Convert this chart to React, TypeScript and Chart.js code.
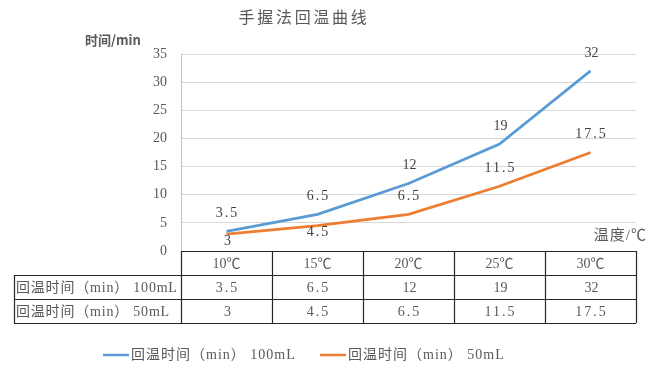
import React, { useEffect, useRef } from 'react';
import { Chart, registerables } from 'chart.js';

Chart.register(...registerables);

const chartTitle = '手握法回温曲线';
const yAxisTitle = '时间/min';
const xAxisTitle = '温度/℃';
const categories = ['10℃', '15℃', '20℃', '25℃', '30℃'];
const series100Name = '回温时间（min） 100mL';
const series50Name = '回温时间（min） 50mL';
const series100 = [3.5, 6.5, 12, 19, 32];
const series50 = [3, 4.5, 6.5, 11.5, 17.5];
const series100LabelPos = ['above', 'above', 'above', 'above', 'above'];
const series50LabelPos = ['below', 'below', 'above', 'above', 'above'];
const yMin = 0;
const yMax = 35;
const yStep = 5;

const BLUE = '#5B9BD5';
const ORANGE = '#ED7D31';
const TEXT = '#595959';
const SERIF = "'Liberation Serif', 'Noto Sans CJK SC', serif";
const CJK = "'Noto Sans CJK SC', sans-serif";

const fmt = (v: number) => String(v);
const numSpacing = (v: number) => (Number.isInteger(v) ? '0px' : '2px');

const overlayPlugin = {
  id: 'overlay',
  afterDraw(chart: any) {
    const ctx: CanvasRenderingContext2D = chart.ctx;
    const area = chart.chartArea;
    const xs = chart.scales.x;
    const ls = (v: string) => {
      (ctx as any).letterSpacing = v;
    };
    ctx.save();

    // Title
    ctx.fillStyle = TEXT;
    ctx.textAlign = 'center';
    ctx.textBaseline = 'middle';
    ctx.font = `16px ${CJK}`;
    ls('2.7px');
    ctx.fillText(chartTitle, 304, 17);
    ls('0px');

    // Y axis title
    ctx.font = `bold 13px ${CJK}`;
    ctx.textAlign = 'left';
    ctx.fillText(yAxisTitle, 85, 40);

    // X axis title
    ctx.font = `15px ${SERIF}`;
    ctx.textAlign = 'right';
    ls('1px');
    ctx.fillText(xAxisTitle, 647, 236);
    ls('0px');

    // Data labels
    ctx.font = `14px ${SERIF}`;
    ctx.textAlign = 'center';
    ctx.fillStyle = '#404040';
    const drawLabels = (dsIndex: number, values: number[], pos: string[]) => {
      const meta = chart.getDatasetMeta(dsIndex);
      meta.data.forEach((pt: any, i: number) => {
        const dy = pos[i] === 'above' ? -18 : 7;
        ls(numSpacing(values[i]));
        ctx.fillText(fmt(values[i]), pt.x + 1, pt.y + dy);
      });
    };
    drawLabels(0, series100, series100LabelPos);
    drawLabels(1, series50, series50LabelPos);
    ls('0px');

    // Data table
    const rowH = 24;
    const top = area.bottom;
    const labelLeft = 14;
    const half = (xs.getPixelForValue(1) - xs.getPixelForValue(0)) / 2;
    const colEdges: number[] = [area.left];
    categories.forEach((_, i) => colEdges.push(xs.getPixelForValue(i) + half));
    const right = colEdges[colEdges.length - 1];

    ctx.strokeStyle = '#262626';
    ctx.lineWidth = 1.2;
    ctx.beginPath();
    ctx.moveTo(area.left, top + 0.5);
    ctx.lineTo(right, top + 0.5);
    for (let r = 1; r <= 3; r++) {
      ctx.moveTo(labelLeft, top + r * rowH + 0.5);
      ctx.lineTo(right, top + r * rowH + 0.5);
    }
    ctx.moveTo(labelLeft + 0.5, top + rowH);
    ctx.lineTo(labelLeft + 0.5, top + 3 * rowH);
    colEdges.forEach((x) => {
      ctx.moveTo(Math.round(x) + 0.5, top);
      ctx.lineTo(Math.round(x) + 0.5, top + 3 * rowH);
    });
    ctx.stroke();

    ctx.fillStyle = TEXT;
    ctx.font = `14px ${SERIF}`;
    ctx.textAlign = 'center';
    categories.forEach((c, i) => {
      const cx = xs.getPixelForValue(i);
      ls('0px');
      ctx.fillText(c, cx, top + rowH / 2 + 1);
      ls(numSpacing(series100[i]));
      ctx.fillText(fmt(series100[i]), cx + 1, top + rowH * 1.5 + 1);
      ls(numSpacing(series50[i]));
      ctx.fillText(fmt(series50[i]), cx + 1, top + rowH * 2.5 + 1);
    });
    ls('0px');
    ctx.textAlign = 'left';
    ctx.font = `14px ${SERIF}`;
    ls('0.8px');
    ctx.fillText(series100Name, labelLeft + 2, top + rowH * 1.5 + 1);
    ctx.fillText(series50Name, labelLeft + 2, top + rowH * 2.5 + 1);

    // Legend
    ls('1px');
    const ly = 355;
    const drawLegend = (x: number, color: string, text: string) => {
      ctx.strokeStyle = color;
      ctx.lineWidth = 2.5;
      ctx.beginPath();
      ctx.moveTo(x, ly);
      ctx.lineTo(x + 26, ly);
      ctx.stroke();
      ctx.fillStyle = TEXT;
      ctx.fillText(text, x + 28, ly);
    };
    drawLegend(103, BLUE, series100Name);
    drawLegend(320, ORANGE, series50Name);
    ls('0px');

    ctx.restore();
  },
};

export default function App() {
  const ref = useRef<HTMLCanvasElement | null>(null);
  useEffect(() => {
    document.body.style.margin = '0';
    if (!ref.current) return;
    const chart = new Chart(ref.current, {
      type: 'line',
      data: {
        labels: categories,
        datasets: [
          {
            label: series100Name,
            data: series100,
            borderColor: BLUE,
            backgroundColor: BLUE,
            borderWidth: 2.75,
            pointRadius: 0,
            tension: 0,
          },
          {
            label: series50Name,
            data: series50,
            borderColor: ORANGE,
            backgroundColor: ORANGE,
            borderWidth: 2.75,
            pointRadius: 0,
            tension: 0,
          },
        ],
      },
      options: {
        animation: false,
        responsive: false,
        devicePixelRatio: 1,
        layout: { padding: { left: 0, right: 17, top: 54, bottom: 125 } },
        plugins: {
          legend: { display: false },
          title: { display: false },
          tooltip: { enabled: false },
        },
        scales: {
          x: {
            type: 'category',
            display: false,
            offset: true,
          },
          y: {
            min: yMin,
            max: yMax,
            ticks: {
              stepSize: yStep,
              color: TEXT,
              font: { family: SERIF, size: 14 },
              padding: 14,
            },
            grid: { color: '#D9D9D9', drawTicks: false, lineWidth: 1 },
            border: { display: true, color: '#BFBFBF', width: 1 },
            afterFit: (axis: any) => {
              axis.width = 181;
            },
          },
        },
      },
      plugins: [overlayPlugin],
    });
    return () => chart.destroy();
  }, []);
  return (
    <div style={{ position: 'absolute', left: 0, top: 0, width: 653, height: 376, background: '#fff' }}>
      <canvas ref={ref} width={653} height={376} style={{ width: 653, height: 376 }} />
    </div>
  );
}
